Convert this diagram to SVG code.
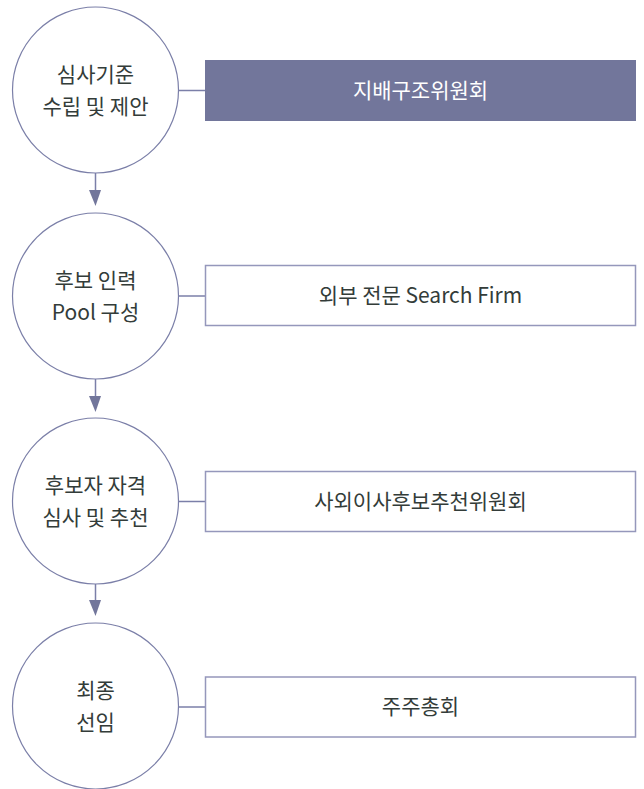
<svg xmlns="http://www.w3.org/2000/svg" width="644" height="789" viewBox="0 0 644 789">
<style>
.c{fill:#fff;stroke:#7b7fa8;stroke-width:1.2}
.b{fill:#fff;stroke:#9597bb;stroke-width:1.5}
.bf{fill:#72769b;stroke:none}
.t{font-family:"Noto Sans CJK KR","Noto Sans",sans-serif;font-size:21px;fill:#333c39;text-anchor:middle}
.tw{fill:#ffffff}
.l{stroke:#7b7fa8;stroke-width:1.5;fill:none}
.ah{fill:#72769b}
</style>
<rect width="644" height="789" fill="#fff"/>
<g id="connectors">
<line class="l" x1="95.5" y1="173" x2="95.5" y2="192"/>
<polygon class="ah" points="89,190 101,190 95.5,206"/>
<line class="l" x1="95.5" y1="379" x2="95.5" y2="397"/>
<polygon class="ah" points="89,396 101,396 95.5,412"/>
<line class="l" x1="95.5" y1="584" x2="95.5" y2="602"/>
<polygon class="ah" points="89,600 101,600 95.5,616"/>
<line class="l" x1="178.5" y1="90.5" x2="205" y2="90.5"/>
<line class="l" x1="178.5" y1="296" x2="205" y2="296"/>
<line class="l" x1="178.5" y1="501.5" x2="205" y2="501.5"/>
<line class="l" x1="178.5" y1="707" x2="205" y2="707"/>
</g>
<g id="step1">
<circle class="c" cx="95.5" cy="90" r="83"/>
<text class="t" x="95.5" y="82">심사기준</text>
<text class="t" x="95.5" y="114">수립 및 제안</text>
</g>
<g id="step2">
<circle class="c" cx="95.5" cy="296" r="83"/>
<text class="t" x="95.5" y="288">후보 인력</text>
<text class="t" x="95.5" y="320">Pool 구성</text>
</g>
<g id="step3">
<circle class="c" cx="95.5" cy="501" r="83"/>
<text class="t" x="95.5" y="493">후보자 자격</text>
<text class="t" x="95.5" y="525">심사 및 추천</text>
</g>
<g id="step4">
<circle class="c" cx="95.5" cy="706" r="83"/>
<text class="t" x="95.5" y="698">최종</text>
<text class="t" x="95.5" y="730">선임</text>
</g>
<g id="box1">
<rect class="bf" x="205" y="60" width="431" height="61"/>
<text class="t tw" x="420.5" y="97.5">지배구조위원회</text>
</g>
<g id="box2">
<rect class="b" x="205.5" y="265.5" width="430" height="60"/>
<text class="t" x="420.5" y="303">외부 전문 Search Firm</text>
</g>
<g id="box3">
<rect class="b" x="205.5" y="471.5" width="430" height="60"/>
<text class="t" x="420.5" y="509">사외이사후보추천위원회</text>
</g>
<g id="box4">
<rect class="b" x="205.5" y="677" width="430" height="60"/>
<text class="t" x="420.5" y="714">주주총회</text>
</g>
</svg>
